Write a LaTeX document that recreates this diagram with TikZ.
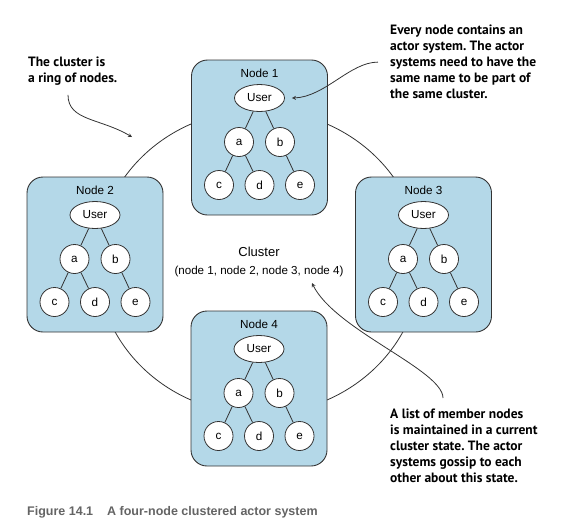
\documentclass[tikz,border=0pt]{standalone}
\usepackage{fontspec}
\setmainfont{Liberation Sans}
\newfontfamily\notefont{PT Sans}
\usetikzlibrary{positioning,arrows,shapes.geometric}
\definecolor{sysblue}{RGB}{180,216,232}
\definecolor{linegray}{RGB}{51,51,51}
\definecolor{capgray}{RGB}{100,100,100}
\frenchspacing

\begin{document}
\begin{tikzpicture}[x=1pt,y=-1pt,>=stealth,
	sysbox/.style={draw=linegray,fill=sysblue,rounded corners=16pt,minimum width=136pt,minimum height=155pt,line width=0.9pt},
	actor/.style={circle,draw=linegray,fill=white,minimum size=29pt,inner sep=0pt,line width=0.8pt,font=\fontsize{11.7}{14}\selectfont},
	user/.style={ellipse,draw=linegray,fill=white,minimum width=50pt,minimum height=27pt,inner sep=0pt,line width=0.8pt,font=\fontsize{11.7}{14}\selectfont},
	note/.style={anchor=north west,align=left,inner sep=0pt,font=\notefont\bfseries\fontsize{13.5}{16}\selectfont},
	link/.style={draw=linegray,line width=0.8pt}]
	\useasboundingbox (0,0) rectangle (580,528);
	\draw[link] (259,262) ellipse [x radius=162pt,y radius=152pt];

	\foreach \i/\x/\y in {1/259.5/60,2/95/177,3/423.5/177,4/259/311}{
		\node[sysbox] (n\i) at (\x,\y+77.5) {};
		\node[font=\fontsize{11.7}{14}\selectfont] (t\i) at (\x,\y+13.5) {Node \i};
		\node[user] (u\i) at (\x,\y+38) {User};
		\node[actor] (a\i) at (\x-20.5,\y+82) {a};
		\node[actor] (b\i) at (\x+20.5,\y+82) {b};
		\node[actor] (c\i) at (\x-40.5,\y+125) {c};
		\node[actor] (d\i) at (\x,\y+125) {d};
		\node[actor] (e\i) at (\x+40.5,\y+125) {e};
		\draw[link] (u\i) -- (a\i);
		\draw[link] (u\i) -- (b\i);
		\draw[link] (a\i) -- (c\i);
		\draw[link] (a\i) -- (d\i);
		\draw[link] (b\i) -- (e\i);
	}

	\node[font=\fontsize{13}{15}\selectfont] (cl) at (259,252) {Cluster};
	\node[font=\fontsize{11.6}{14}\selectfont] (members) at (259,271) {(node 1, node 2, node 3, node 4)};

	\node[note] (ringnote) at (28,57) {The cluster is\\a ring of nodes.};
	\node[note] (sysnote) at (390,25) {Every node contains an\\actor system. The actor\\systems need to have the\\same name to be part of\\the same cluster.};
	\node[note] (statenote) at (390,409) {A list of member nodes\\is maintained in a current\\cluster state. The actor\\systems gossip to each\\other about this state.};
	\coordinate (ringpt) at (132,137);
	\coordinate (listpt) at (312,283);

	\draw[->,link] ([xshift=40pt,yshift=-9pt]ringnote.south west) .. controls +(0,26) and +(-32,-19) .. (ringpt);
	\draw[->,link] ([xshift=-12pt]sysnote.west) .. controls +(-28,0) and +(33,-1) .. ([xshift=7pt]u1.east);
	\draw[->,link] ([xshift=53pt,yshift=11pt]statenote.north west) .. controls +(0,-28) and +(23,47) .. (listpt);

	\node[anchor=base west,inner sep=0pt,text=capgray,font=\bfseries\fontsize{12.5}{15}\selectfont] (caption) at (27,515.5) {Figure 14.1\hspace{14pt}A four-node clustered actor system};
\end{tikzpicture}
\end{document}
